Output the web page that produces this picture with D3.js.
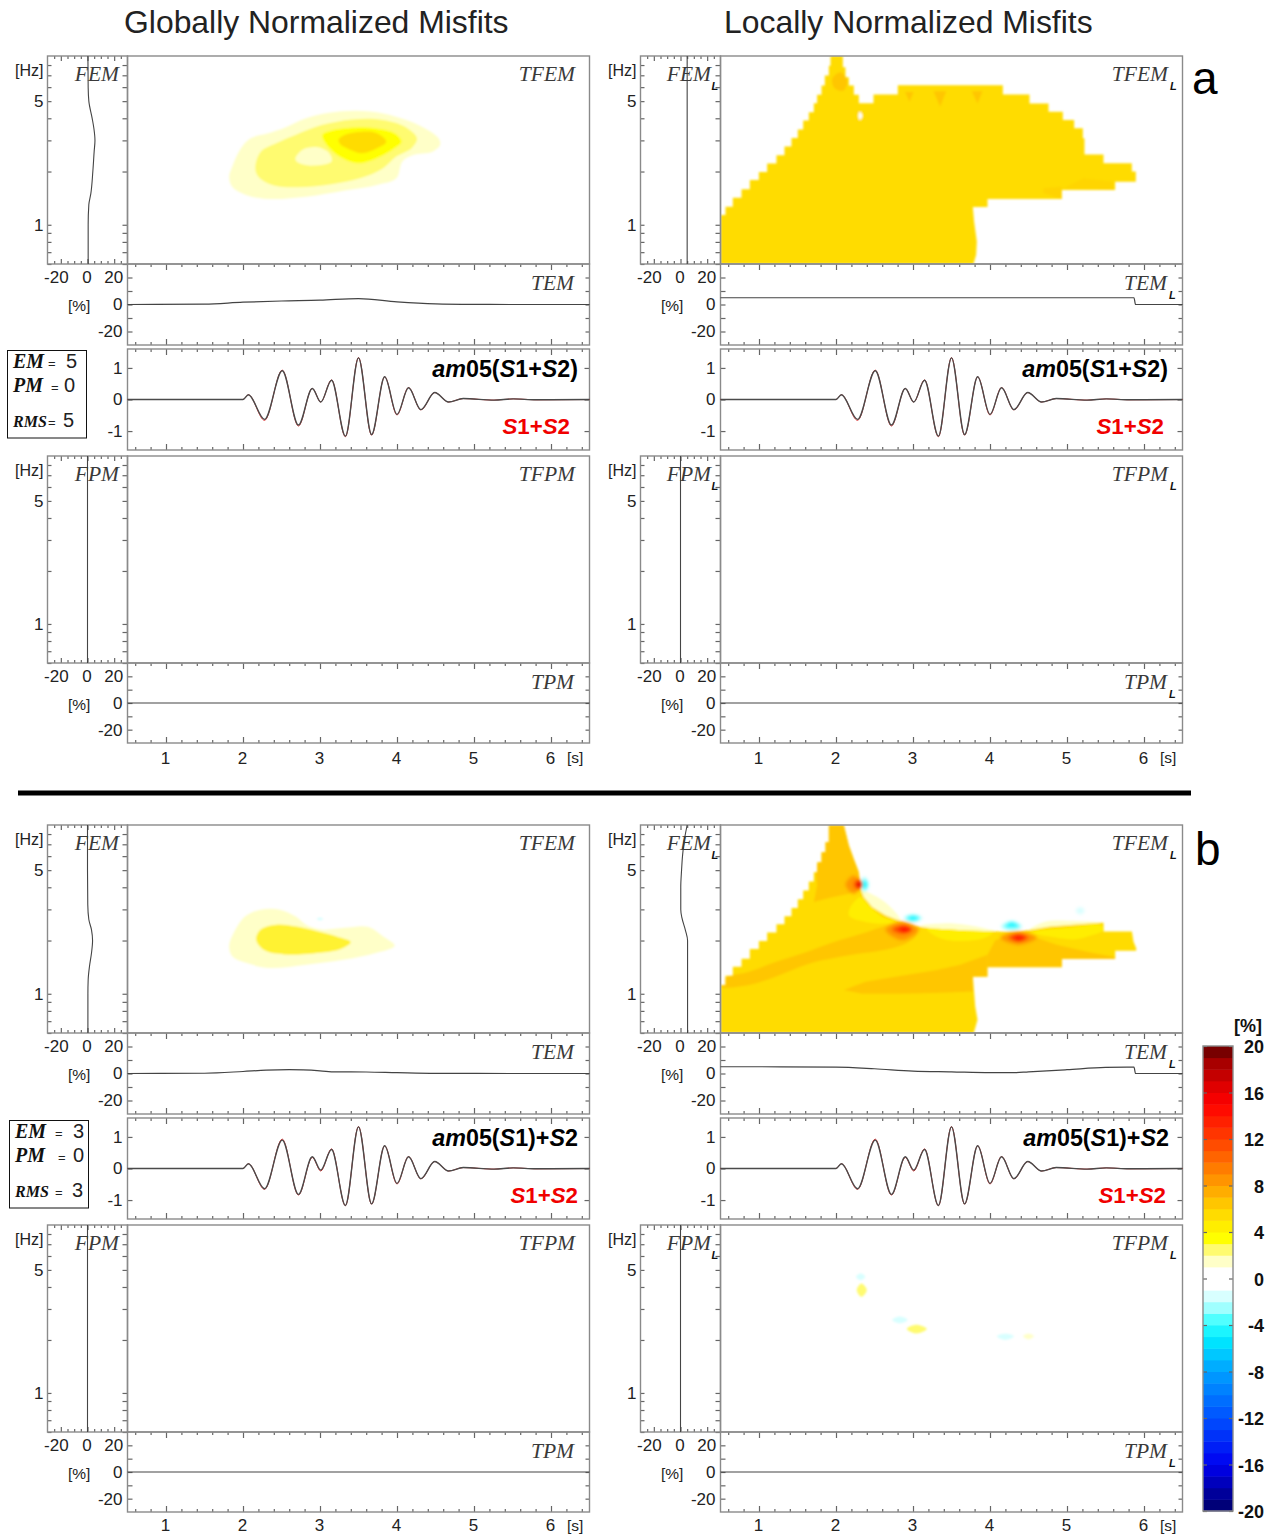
<!DOCTYPE html>
<html>
<head>
<meta charset="utf-8">
<script src="https://cdn.jsdelivr.net/npm/d3@7"></script>
<style>
html, body { margin: 0; background: #fff; }
svg { display: block; }
text { font-family: "Liberation Sans", Arial, sans-serif; fill: #222; }
.serif { font-family: "Liberation Serif", serif; font-style: italic; fill: #3a3a3a; }
</style>
</head>
<body>
<svg width="1277" height="1535"></svg>
<script>
// ---- axis values
const timeMajor = [1, 2, 3, 4, 5, 6];
const timeMinor = [0.6,0.8,1.2,1.4,1.6,1.8,2.2,2.4,2.6,2.8,3.2,3.4,3.6,3.8,4.2,4.4,4.6,4.8,5.2,5.4,5.6,5.8,6.2,6.4];
const freqTicks = [0.6,0.7,0.8,0.9,1,2,3,4,5,6,7,8];
const freqLabels = [1, 5];
const ampMajor = [-20, 0, 20];
const ampMinor = [-25,-15,-10,-5,5,10,15,25];
const pctTicks = [-20, -10, 0, 10, 20];
const waveTicks = [-1, 0, 1];
const barTicks = [-20,-16,-12,-8,-4,0,4,8,12,16,20];

// ---- colour levels of the misfit bar
const colorLevels = [-19.5,-16,-12,-8,-5,-3.5,-2.5,-1.5,-0.5,0.5,1.5,2.5,3.5,4.5,5.5,6.5,8,10,12,15,16.5,18.5,19.5];
const colorHexes = ["#000078","#0000f0","#0050ff","#00a0ff","#00f0ff","#50ffff","#a0ffff","#d8ffff","#ffffff","#ffffff","#ffffc8","#fffb70","#ffff00","#ffee00","#ffdc00","#ffc600","#ffa000","#ff7000","#ff4000","#ff0000","#e00000","#a80000","#780000"];

// ---- signals: time [s], amplitude
const waveT = [0.5,1.9,2.0,2.07,2.28,2.51,2.72,2.90,3.01,3.15,3.33,3.50,3.67,3.84,4.00,4.15,4.31,4.49,4.67,4.86,5.26,5.51,5.80,6.5];
const waveRefA = [0,0,0,0.15,-0.66,0.93,-0.84,0.35,-0.08,0.62,-1.18,1.33,-1.13,0.72,-0.49,0.38,-0.33,0.22,-0.08,0.03,-0.02,0.02,-0.01,0];
const waveFitA = [0,0,0,0.15,-0.63,0.91,-0.81,0.35,-0.08,0.61,-1.16,1.32,-1.11,0.72,-0.47,0.37,-0.32,0.22,-0.08,0.03,-0.02,0.02,-0.01,0];
const waveFitB = [0,0,0,0.15,-0.64,0.90,-0.82,0.37,-0.05,0.60,-1.17,1.32,-1.12,0.72,-0.47,0.37,-0.32,0.22,-0.08,0.03,-0.02,0.02,-0.01,0];

// ---- one-dimensional misfits: [time, %] and [Hz, %]
const temGA = [[0.5,0],[1.5,0.3],[2,1.7],[2.5,2.6],[3,3.2],[3.5,4.4],[4,2],[4.5,0.5],[5,0.1],[5.5,0],[6.5,0]];
const temLA = [[0.5,5],[5.87,5],[5.89,0],[6.5,0]];
const temGB = [[0.5,0],[1.5,0.2],[2,1.5],[2.3,2.5],[2.6,2.8],[3,2],[3.2,1.2],[3.6,1.1],[4,0.6],[4.5,0.1],[5.5,0],[6.5,0]];
const temLB = [[0.5,5],[1,5],[2,4.7],[2.5,3.5],[3,1.8],[3.5,1.2],[4,0.6],[4.3,0.6],[4.5,1.2],[5,2.8],[5.5,4.5],[5.87,4.7],[5.89,0],[6.5,0]];
const tpmZero = [[0.5,0],[6.5,0]];
const femGA = [[9,0.3],[6,0.5],[5,1],[4,3.5],[3.5,4.8],[3,5.6],[2.6,5],[2,4],[1.5,2.5],[1.3,1],[1,0.5],[0.6,0.5]];
const femLA = [[9,5],[0.6,5]];
const femGB = [[9,0],[5,0],[3.2,0.2],[2.63,1],[2.3,3],[2,3.8],[1.7,3],[1.43,1.5],[1.2,0.5],[1,0.3],[0.6,0.3]];
const femLB = [[9,5],[7.5,3],[6,1.5],[5,0.8],[4,0.2],[3,0.2],[2.7,1],[2.27,3.8],[2,5.3],[1,5.3],[0.6,5.3]];
const fpmZero = [[9,0],[0.6,0]];

// ---- time-frequency contours: [s, Hz]
const tfemGA15 = [[1.82,1.87],[1.86,2.13],[1.96,2.65],[2.10,3.08],[2.33,3.29],[2.55,3.55],[2.82,4.0],[3.12,4.30],[3.47,4.41],[3.82,4.26],[4.12,3.91],[4.36,3.51],[4.54,3.08],[4.56,2.83],[4.46,2.59],[4.21,2.48],[4.07,2.28],[3.99,1.83],[3.74,1.68],[3.32,1.56],[2.82,1.44],[2.33,1.40],[2.03,1.48],[1.86,1.64]];
const tfemGA25 = [[2.16,2.09],[2.23,2.59],[2.43,2.89],[2.68,3.22],[3.02,3.66],[3.42,3.94],[3.82,3.91],[4.12,3.55],[4.26,3.08],[4.19,2.71],[3.99,2.43],[3.82,2.09],[3.52,1.83],[3.17,1.70],[2.72,1.63],[2.38,1.68],[2.20,1.87]];
const tfemGAhole = [[2.68,2.35],[2.77,2.65],[2.97,2.74],[3.12,2.54],[3.15,2.28],[2.92,2.16],[2.75,2.21]];
const tfemGA35 = [[3.03,3.22],[3.07,2.89],[3.22,2.48],[3.47,2.23],[3.67,2.31],[3.97,2.71],[4.06,2.95],[3.97,3.29],[3.72,3.51],[3.47,3.55],[3.17,3.43]];
const tfemGA55 = [[3.24,3.02],[3.32,3.22],[3.54,3.36],[3.74,3.29],[3.86,2.95],[3.74,2.71],[3.54,2.54],[3.35,2.71],[3.27,2.83]];
const tfemGB15 = [[1.82,1.86],[1.88,2.21],[2.03,2.74],[2.23,2.99],[2.48,2.99],[2.68,2.74],[2.82,2.46],[3.02,2.31],[3.32,2.36],[3.62,2.39],[3.82,2.11],[3.97,1.87],[3.72,1.70],[3.32,1.56],[2.82,1.46],[2.33,1.40],[2.03,1.50],[1.86,1.63]];
const tfemGB45 = [[2.17,2.03],[2.23,2.31],[2.43,2.46],[2.68,2.41],[2.97,2.26],[3.22,2.11],[3.40,1.96],[3.27,1.79],[2.92,1.69],[2.53,1.67],[2.28,1.76]];
const tfemGBcold = [[2.96,2.65],[3.0,2.70],[3.04,2.65],[3.0,2.60]];

// local panel a: staircase outline, then the smooth foot
const outlineAsteps = [[0.5,1.134],[0.565,1.263],[0.66,1.42],[0.773,1.59],[0.881,1.79],[0.998,1.99],[1.106,2.22],[1.227,2.47],[1.331,2.77],[1.422,3.09],[1.504,3.46],[1.574,3.89],[1.647,4.33],[1.712,4.87],[1.755,5.43],[1.812,6.13],[1.855,6.98],[1.907,7.94],[1.929,9],[2.089,7.78],[2.123,6.82],[2.167,6.13],[2.232,5.43],[2.297,4.87],[2.487,5.45],[2.803,6.15],[4.167,5.45],[4.513,4.85],[4.76,4.35],[4.946,3.91],[5.093,3.51],[5.206,3.08],[5.227,2.5],[5.474,2.23],[5.842,2.0],[5.894,1.75],[5.625,1.57],[4.933,1.40],[3.968,1.26],[3.777,1.26]];
const outlineAfoot = [[3.794,1.04],[3.829,0.805],[3.82,0.677],[3.786,0.6],[0.5,0.6]];
const patchA1 = [[1.95,6.68],[2.06,7.29],[2.145,6.54],[2.10,5.74],[1.99,5.87]];
const patchA2 = [[2.898,5.64],[3.006,5.64],[2.955,4.96]];
const patchA3 = [[3.266,5.69],[3.431,5.69],[3.353,4.65]];
const patchA4 = [[3.764,5.69],[3.903,5.69],[3.838,4.85]];
const patchA5 = [[4.695,1.61],[4.933,1.64],[4.933,1.40],[4.695,1.51]];
const patchA6 = [[5.214,1.83],[5.604,1.75],[5.604,1.57],[4.955,1.61]];
const holeA = [[2.29,4.13],[2.31,4.35],[2.344,4.13],[2.31,3.91]];

// local panel b
const outlineBsteps = [[0.5,1.12],[0.565,1.263],[0.66,1.42],[0.773,1.58],[0.881,1.79],[0.998,1.99],[1.106,2.22],[1.227,2.47],[1.331,2.74],[1.422,3.05],[1.504,3.42],[1.574,3.84],[1.647,4.32],[1.712,4.87],[1.755,5.55],[1.812,6.31],[1.864,7.19],[1.907,9],[2.102,9]];
const outlineBedge = [[2.167,6.89],[2.232,5.79],[2.297,4.87],[2.322,3.92],[2.361,3.52],[2.47,3.09],[2.643,2.78],[2.859,2.55],[3.033,2.42],[3.267,2.34],[3.70,2.28],[4.133,2.25],[4.392,2.25],[4.782,2.40],[5.431,2.52],[5.475,2.52],[5.475,2.25],[5.843,2.25],[5.864,1.97],[5.899,1.81],[5.899,1.75],[5.626,1.75],[5.626,1.57],[4.934,1.57],[4.934,1.41],[3.968,1.41],[3.968,1.25],[3.778,1.25],[3.808,0.849],[3.838,0.713],[3.795,0.612],[3.79,0.6],[0.5,0.6]];
const bandSpike = [[1.907,9],[2.102,9],[2.232,5.79],[2.305,4.87],[2.327,4.01],[2.167,3.68],[1.907,3.48],[1.712,3.30],[1.755,4.10],[1.734,5.09],[1.812,6.31]];
const bandDiag = [[0.543,1.22],[0.868,1.33],[1.214,1.51],[1.561,1.69],[1.907,1.92],[2.34,2.19],[2.686,2.44],[2.881,2.46],[3.054,2.24],[3.032,2.10],[2.903,1.92],[2.6,1.76],[2.167,1.65],[1.647,1.48],[1.214,1.25],[0.868,1.12],[0.5,1.10]];
const bandFoot = [[2.102,1.05],[2.383,1.17],[2.773,1.25],[3.292,1.36],[3.613,1.46],[3.968,1.66],[3.968,1.25],[3.778,1.25],[3.778,1.03],[3.267,1.01],[2.773,1.0],[2.34,1.0]];
const bandRight = [[3.968,1.41],[3.968,1.66],[4.068,2.01],[4.306,2.15],[4.566,2.10],[4.869,1.89],[5.258,1.73],[5.626,1.61],[5.626,1.57],[4.934,1.57],[4.934,1.41]];
const paleArc1 = [[2.322,3.84],[2.513,3.57],[2.686,3.16],[2.838,2.60],[2.6,2.72],[2.383,3.30]];
const paleArc2 = [[3.094,2.43],[3.397,2.50],[3.70,2.45],[4.068,2.26],[3.397,2.31]];
const paleArc3 = [[4.501,2.28],[4.695,2.54],[4.999,2.59],[5.431,2.52],[5.085,2.38],[4.695,2.28]];
const yellow1 = [[2.322,3.52],[2.188,3.09],[2.167,2.77],[2.297,2.60],[2.556,2.49],[2.794,2.55],[2.6,2.72],[2.383,3.30]];
const yellow2 = [[3.18,2.34],[4.046,2.25],[3.916,2.06],[3.483,2.0],[3.267,2.15]];
const yellow3 = [[4.522,2.22],[5.085,2.38],[5.431,2.45],[5.475,2.30],[5.258,2.10],[5.085,2.03],[4.739,2.12]];
const hot1a = [[2.123,4.15],[2.232,4.67],[2.327,4.15],[2.232,3.68]];
const hot1b = [[2.232,4.15],[2.288,4.43],[2.327,4.15],[2.288,3.89]];
const hot1c = [[2.27,4.15],[2.30,4.32],[2.331,4.15],[2.30,3.99]];
const hot2a = [[2.643,2.31],[2.86,2.55],[3.076,2.31],[2.86,2.01]];
const hot2b = [[2.729,2.31],[2.875,2.44],[2.989,2.31],[2.875,2.19]];
const hot2c = [[2.816,2.31],[2.89,2.38],[2.968,2.31],[2.89,2.25]];
const hot3a = [[4.133,2.08],[4.37,2.25],[4.609,2.08],[4.37,1.89]];
const hot3b = [[4.241,2.08],[4.37,2.18],[4.501,2.08],[4.37,1.97]];
const hot3c = [[4.306,2.08],[4.37,2.12],[4.444,2.08],[4.37,2.02]];
const cold1a = [[2.314,4.15],[2.37,4.57],[2.422,4.15],[2.37,3.76]];
const cold1b = [[2.344,4.15],[2.375,4.37],[2.405,4.15],[2.375,3.92]];
const cold2a = [[2.881,2.68],[3.0,2.81],[3.119,2.68],[3.0,2.55]];
const cold2b = [[2.924,2.68],[3.0,2.75],[3.076,2.68],[3.0,2.60]];
const cold3a = [[4.146,2.40],[4.284,2.58],[4.414,2.40],[4.284,2.28]];
const cold3b = [[4.198,2.40],[4.284,2.53],[4.371,2.40],[4.284,2.38]];
const cold5 = [[5.115,2.95],[5.172,3.08],[5.228,2.95],[5.172,2.81]];
// phase misfit specks, local panel b
const speck1 = [[2.26,4.57],[2.32,4.77],[2.38,4.57],[2.32,4.37]];
const speck2 = [[2.27,3.85],[2.33,4.19],[2.40,3.85],[2.33,3.52]];
const speck3 = [[2.73,2.60],[2.83,2.72],[2.93,2.60],[2.83,2.49]];
const speck4 = [[2.92,2.31],[3.04,2.44],[3.18,2.31],[3.04,2.18]];
const speck5 = [[4.09,2.10],[4.2,2.17],[4.31,2.10],[4.2,2.0]];
const speck6 = [[4.43,2.10],[4.5,2.17],[4.57,2.10],[4.5,2.02]];

const stairs = pts => pts.flatMap((p, i) => i === 0 ? [p] : [[p[0], pts[i - 1][1]], p]);
const outlineA = [[0.5, 0.6]].concat(stairs(outlineAsteps), outlineAfoot);
const outlineB = [[0.5, 0.6]].concat(stairs(outlineBsteps), outlineBedge);

const bandColor = (() => {
    const c = d3.scaleLinear().domain(colorLevels).range(colorHexes);
    return v => c(Math.floor(v) + 0.5);
})();

const svg = d3.select("svg");
const defs = svg.append("defs");
defs.append("filter").attr("id", "soft")
    .attr("x", "-10%").attr("y", "-10%").attr("width", "120%").attr("height", "120%")
    .append("feGaussianBlur").attr("stdDeviation", 1);
defs.append("filter").attr("id", "softer")
    .attr("x", "-60%").attr("y", "-60%").attr("width", "220%").attr("height", "220%")
    .append("feGaussianBlur").attr("stdDeviation", 1.8);

const frameColor = "#8a8a8a";
const tickColor = "#666";
let clipCount = 0;

function tickAxis(parent, axis, vals, size, tx, ty) {
    const g = parent.append("g")
        .attr("transform", "translate(" + tx + "," + ty + ")")
        .call(axis.tickValues(vals).tickSize(size).tickFormat(""));
    g.select(".domain").remove();
    g.selectAll("line").attr("stroke", tickColor).attr("stroke-width", 1.2);
    g.selectAll("text").remove();
}

function labelAxis(parent, axis, vals, tx, ty, pad) {
    const g = parent.append("g")
        .attr("transform", "translate(" + tx + "," + ty + ")")
        .call(axis.tickValues(vals).tickSize(0).tickPadding(pad).tickFormat(d => String(d)));
    g.select(".domain").remove();
    g.selectAll("text").attr("font-family", null).attr("font-size", 17)
        .style("font-family", '"Liberation Sans", Arial, sans-serif').style("fill", "#222");
    return g;
}

function frame(parent, x0, y0, x1, y1) {
    parent.append("rect").attr("x", x0).attr("y", y0)
        .attr("width", x1 - x0).attr("height", y1 - y0)
        .attr("fill", "none").attr("stroke", frameColor).attr("stroke-width", 1.4);
}

function panelName(parent, name, sub, xEnd, yBase, subX) {
    parent.append("text").attr("class", "serif")
        .attr("x", xEnd).attr("y", yBase).attr("text-anchor", "end")
        .attr("font-size", 21.5).text(name);
    if (sub) {
        parent.append("text").attr("x", subX).attr("y", yBase + 9)
            .attr("font-size", 11).attr("font-weight", "bold").attr("font-style", "italic")
            .style("fill", "#111").text("L");
    }
}

function drawLayers(parent, x, f, x0, y0, x1, y1, layers, outline) {
    const id = "clip" + (clipCount++);
    defs.append("clipPath").attr("id", id).append("rect")
        .attr("x", x0).attr("y", y0).attr("width", x1 - x0).attr("height", y1 - y0);
    const g = parent.append("g").attr("clip-path", "url(#" + id + ")")
        .append("g").attr("filter", "url(#soft)");
    const smooth = d3.line().x(d => x(d[0])).y(d => f(d[1])).curve(d3.curveCatmullRomClosed);
    const sharp = d3.line().x(d => x(d[0])).y(d => f(d[1]));
    let target = g;
    layers.forEach(l => {
        if (l.clipToOutline && outline && target === g) {
            const inner = "clip" + (clipCount++);
            defs.append("clipPath").attr("id", inner).append("path").attr("d", sharp(outline) + "Z");
            target = g.append("g").attr("clip-path", "url(#" + inner + ")");
        }
        const group = l.clipToOutline ? target : g;
        const p = group.append("path")
            .attr("d", l.sharp ? sharp(l.ring) + "Z" : smooth(l.ring))
            .attr("fill", bandColor(l.level));
        if (l.alpha) p.attr("fill-opacity", l.alpha);
        if (l.spot) p.attr("filter", "url(#softer)");
    });
}

function drawPanelRow(parent, cx, yTop, yTf, yPct, emName, tfName, tName, sub, femData, tfLayers, tData, outline) {
    const x = d3.scaleLinear().domain([0.5, 6.5]).range([127.5 + cx, 589.5 + cx]);
    const f = d3.scaleLog().domain([0.6, 9]).range([yTf, yTop]);
    const amp = d3.scaleLinear().domain([-30, 30]).range([47.5 + cx, 127.5 + cx]);
    const pct = d3.scaleLinear().domain([-30, 30]).range([yPct, yTf]);

    drawLayers(parent, x, f, 127.5 + cx, yTop, 589.5 + cx, yTf, tfLayers, outline);

    // freq panel ticks
    tickAxis(parent, d3.axisRight(f), freqTicks, 4, 47.5 + cx, 0);
    tickAxis(parent, d3.axisLeft(f), freqTicks, 5, 127.5 + cx, 0);
    tickAxis(parent, d3.axisBottom(amp), ampMajor, 5, 0, yTop);
    tickAxis(parent, d3.axisBottom(amp), ampMinor, 3, 0, yTop);
    tickAxis(parent, d3.axisTop(amp), ampMajor, 5, 0, yTf);
    tickAxis(parent, d3.axisTop(amp), ampMinor, 3, 0, yTf);
    // time ticks on the percent panel
    tickAxis(parent, d3.axisBottom(x), timeMajor, 6, 0, yTf);
    tickAxis(parent, d3.axisBottom(x), timeMinor, 3, 0, yTf);
    tickAxis(parent, d3.axisTop(x), timeMajor, 6, 0, yPct);
    tickAxis(parent, d3.axisTop(x), timeMinor, 3, 0, yPct);
    tickAxis(parent, d3.axisRight(pct), pctTicks, 5, 127.5 + cx, 0);
    tickAxis(parent, d3.axisLeft(pct), pctTicks, 4, 589.5 + cx, 0);

    frame(parent, 47.5 + cx, yTop, 127.5 + cx, yTf);
    frame(parent, 127.5 + cx, yTop, 589.5 + cx, yTf);
    frame(parent, 127.5 + cx, yTf, 589.5 + cx, yPct);

    parent.append("path").datum(femData)
        .attr("d", d3.line().x(d => amp(d[1])).y(d => f(d[0])).curve(d3.curveMonotoneY))
        .attr("fill", "none").attr("stroke", "#444").attr("stroke-width", 1.1);
    parent.append("path").datum(tData)
        .attr("d", d3.line().x(d => x(d[0])).y(d => pct(d[1])).curve(d3.curveMonotoneX))
        .attr("fill", "none").attr("stroke", "#444").attr("stroke-width", 1.2);

    // tick labels
    labelAxis(parent, d3.axisLeft(f), freqLabels, 47.5 + cx, 0, 4);
    labelAxis(parent, d3.axisBottom(amp), ampMajor, 0, yTf + 3, 4)
        .selectAll("text").attr("dx", d => d === -20 ? -5 : -1);
    labelAxis(parent, d3.axisLeft(pct), [-20, 0], 127.5 + cx, 0, 5);
    parent.append("text").attr("x", 15 + cx).attr("y", yTop + 19.5).attr("font-size", 16).text("[Hz]");
    parent.append("text").attr("x", 68 + cx).attr("y", yTf + 47).attr("font-size", 15.5).text("[%]");

    panelName(parent, emName, sub, (sub ? 118 : 119) + cx, yTop + 25, 118.5 + cx);
    panelName(parent, tfName, sub, 575 + cx, yTop + 25, 577 + cx);
    panelName(parent, tName, sub, 574 + cx, yTf + 26, 576 + cx);
    return x;
}

function richText(parent, parts, xEnd, yBase, size, color) {
    const t = parent.append("text").attr("x", xEnd).attr("y", yBase)
        .attr("text-anchor", "end").attr("font-size", size).attr("font-weight", "bold")
        .style("fill", color);
    parts.forEach(p => {
        t.append("tspan").attr("font-style", p[1] ? "italic" : "normal").text(p[0]);
    });
}

function drawWave(parent, cx, y0, y1, fitValues, fitParts, fitEnd, refEnd, refY, fitY) {
    const x = d3.scaleLinear().domain([0.5, 6.5]).range([127.5 + cx, 589.5 + cx]);
    const amp = d3.scaleLinear().domain([-1.6, 1.6]).range([y1, y0]);
    tickAxis(parent, d3.axisBottom(x), timeMajor, 6, 0, y0);
    tickAxis(parent, d3.axisBottom(x), timeMinor, 3, 0, y0);
    tickAxis(parent, d3.axisTop(x), timeMajor, 6, 0, y1);
    tickAxis(parent, d3.axisTop(x), timeMinor, 3, 0, y1);
    tickAxis(parent, d3.axisRight(amp), waveTicks, 5, 127.5 + cx, 0);
    tickAxis(parent, d3.axisLeft(amp), waveTicks, 5, 589.5 + cx, 0);
    frame(parent, 127.5 + cx, y0, 589.5 + cx, y1);
    const line = d3.line().x((d, i) => x(waveT[i])).y(d => amp(d)).curve(d3.curveMonotoneX);
    parent.append("path").datum(waveRefA).attr("d", line)
        .attr("fill", "none").attr("stroke", "#d01818").attr("stroke-width", 0.9);
    parent.append("path").datum(fitValues).attr("d", line)
        .attr("fill", "none").attr("stroke", "#4a4a4a").attr("stroke-width", 1.4);
    labelAxis(parent, d3.axisLeft(amp), waveTicks, 127.5 + cx, 0, 5);
    richText(parent, fitParts, fitEnd + cx, fitY, 23.3, "#000");
    richText(parent, [["S", true], ["1+", false], ["S", true], ["2", false]], refEnd + cx, refY, 22.3, "#f00000");
}

function statBox(parent, xr, yr, w, h, nameX, eqX, vals, valX, valXrms, base) {
    parent.append("rect").attr("x", xr).attr("y", yr).attr("width", w).attr("height", h)
        .attr("fill", "#fff").attr("stroke", "#111").attr("stroke-width", 1);
    const rows = [["EM", 20, base[0], valX[0]], ["PM", 20, base[1], valX[1]], ["RMS", 16, base[2], valXrms]];
    rows.forEach((r, i) => {
        parent.append("text").attr("class", "serif").attr("x", nameX).attr("y", r[2])
            .attr("font-size", r[1]).attr("font-weight", "bold").style("fill", "#111").text(r[0]);
        parent.append("text").attr("x", eqX + (i === 1 ? 3 : 0)).attr("y", r[2])
            .attr("font-size", 13).text("=");
        parent.append("text").attr("x", r[3]).attr("y", r[2])
            .attr("font-size", 20).text(vals[i]);
    });
}

function localLayersA() {
    return [
        {level: 5.5, ring: outlineA, sharp: true},
        {level: 6.5, ring: patchA1, clipToOutline: true},
        {level: 6.5, ring: patchA2, sharp: true, clipToOutline: true},
        {level: 6.5, ring: patchA3, sharp: true, clipToOutline: true},
        {level: 6.5, ring: patchA4, sharp: true, clipToOutline: true},
        {level: 6.5, ring: patchA5, sharp: true, clipToOutline: true, alpha: 0.4},
        {level: 6.5, ring: patchA6, sharp: true, clipToOutline: true, alpha: 0.3},
        {level: 0, ring: holeA}
    ];
}

function localLayersB() {
    return [
        {level: 1.5, ring: paleArc1},
        {level: 1.5, ring: paleArc2},
        {level: 1.5, ring: paleArc3},
        {level: -2.5, ring: cold1a, spot: true},
        {level: -4.5, ring: cold1b, spot: true},
        {level: -2.5, ring: cold2a, spot: true},
        {level: -4.5, ring: cold2b, spot: true},
        {level: -2.5, ring: cold3a, spot: true},
        {level: -4.5, ring: cold3b, spot: true},
        {level: -1.5, ring: cold5, spot: true},
        {level: 5.5, ring: outlineB, sharp: true},
        {level: 6.5, ring: bandSpike, sharp: true, clipToOutline: true},
        {level: 6.5, ring: bandDiag, clipToOutline: true},
        {level: 6.5, ring: bandFoot, sharp: true, clipToOutline: true},
        {level: 6.5, ring: bandRight, sharp: true, clipToOutline: true},
        {level: 4.5, ring: yellow1, clipToOutline: true},
        {level: 4.5, ring: yellow2, clipToOutline: true},
        {level: 4.5, ring: yellow3, clipToOutline: true},
        {level: 8, ring: hot1a, spot: true},
        {level: 11, ring: hot1b, spot: true},
        {level: 16, ring: hot1c, spot: true},
        {level: 8, ring: hot2a, spot: true},
        {level: 11, ring: hot2b, spot: true},
        {level: 14, ring: hot2c, spot: true},
        {level: 8, ring: hot3a, spot: true},
        {level: 11, ring: hot3b, spot: true},
        {level: 14, ring: hot3c, spot: true}
    ];
}

const fitPartsA = [["am", true], ["05(", false], ["S", true], ["1+", false], ["S", true], ["2)", false]];
const fitPartsB = [["am", true], ["05(", false], ["S", true], ["1)+", false], ["S", true], ["2", false]];

// ---- block a
const a = svg.append("g");
drawPanelRow(a, 0, 56, 264, 345, "FEM", "TFEM", "TEM", false, femGA, [
    {level: 1.5, ring: tfemGA15},
    {level: 2.5, ring: tfemGA25},
    {level: 1.5, ring: tfemGAhole},
    {level: 3.5, ring: tfemGA35},
    {level: 5.5, ring: tfemGA55}
], temGA);
drawWave(a, 0, 349, 450, waveFitA, fitPartsA, 578, 570, 434, 377);
drawPanelRow(a, 0, 456, 663, 743, "FPM", "TFPM", "TPM", false, fpmZero, [], tpmZero);
drawPanelRow(a, 593, 56, 264, 345, "FEM", "TFEM", "TEM", true, femLA, localLayersA(), temLA, outlineA);
drawWave(a, 593, 349, 450, waveFitA, fitPartsA, 575, 571, 434, 377);
drawPanelRow(a, 593, 456, 663, 743, "FPM", "TFPM", "TPM", true, fpmZero, [], tpmZero);

// ---- block b
const b = svg.append("g");
drawPanelRow(b, 0, 825, 1033, 1114, "FEM", "TFEM", "TEM", false, femGB, [
    {level: 1.5, ring: tfemGB15},
    {level: 4.5, ring: tfemGB45, alpha: 0.75},
    {level: -1.5, ring: tfemGBcold}
], temGB);
drawWave(b, 0, 1118, 1219, waveFitB, fitPartsB, 578, 578, 1203, 1146);
drawPanelRow(b, 0, 1225, 1432, 1512, "FPM", "TFPM", "TPM", false, fpmZero, [], tpmZero);
drawPanelRow(b, 593, 825, 1033, 1114, "FEM", "TFEM", "TEM", true, femLB, localLayersB(), temLB, outlineB);
drawWave(b, 593, 1118, 1219, waveFitB, fitPartsB, 576, 573, 1203, 1146);
drawPanelRow(b, 593, 1225, 1432, 1512, "FPM", "TFPM", "TPM", true, fpmZero, [
    {level: -1.5, ring: speck1},
    {level: 2.5, ring: speck2},
    {level: -1.5, ring: speck3},
    {level: 2.5, ring: speck4},
    {level: -1.5, ring: speck5},
    {level: 1.5, ring: speck6}
], tpmZero);

// time labels under the two bottom rows; the lower pair sits tight against the page edge
[[0, 743, 5, 20], [593, 743, 5, 20], [0, 1512, 2.5, 19], [593, 1512, 2.5, 19]].forEach(p => {
    const x = d3.scaleLinear().domain([0.5, 6.5]).range([127.5 + p[0], 589.5 + p[0]]);
    labelAxis(svg, d3.axisBottom(x), timeMajor, -1, p[1] + p[2], 4);
    svg.append("text").attr("x", 567 + p[0]).attr("y", p[1] + p[3]).attr("font-size", 15.5).text("[s]");
});

// ---- stats boxes
statBox(svg, 7.5, 350.5, 79, 87.5, 13, 48, ["5", "0", "5"], [66, 64], 63, [368, 392, 427]);
statBox(svg, 9.5, 1120.5, 79, 87.5, 15, 55, ["3", "0", "3"], [73, 73], 72, [1138, 1162, 1197]);

// ---- titles, letters, separator
svg.append("text").attr("x", 124).attr("y", 33).attr("font-size", 31.9).text("Globally Normalized Misfits");
svg.append("text").attr("x", 724).attr("y", 33).attr("font-size", 31.9).text("Locally Normalized Misfits");
svg.append("text").attr("x", 1192).attr("y", 94).attr("font-size", 46).style("fill", "#000").text("a");
svg.append("text").attr("x", 1195).attr("y", 865).attr("font-size", 46).style("fill", "#000").text("b");
svg.append("line").attr("x1", 18).attr("x2", 1191).attr("y1", 793).attr("y2", 793)
    .attr("stroke", "#000").attr("stroke-width", 5);

// ---- colour bar
const barY = d3.scaleLinear().domain([-20, 20]).range([1511, 1046]);
const bar = svg.append("g");
bar.selectAll("rect.band").data(d3.range(-20, 20)).enter().append("rect")
    .attr("class", "band")
    .attr("x", 1203).attr("width", 30)
    .attr("y", d => barY(d + 1))
    .attr("height", d => barY(d) - barY(d + 1) + 0.5)
    .attr("fill", d => bandColor(d));
tickAxis(bar, d3.axisRight(barY), barTicks, 4, 1203, 0);
tickAxis(bar, d3.axisLeft(barY), barTicks, 4, 1233, 0);
frame(bar, 1203, 1046, 1233, 1511);
const barLabels = bar.append("g").attr("transform", "translate(1233,1)")
    .call(d3.axisRight(barY).tickValues(barTicks).tickSize(0).tickPadding(8).tickFormat(d => String(d)));
barLabels.select(".domain").remove();
barLabels.selectAll("text")
    .attr("text-anchor", "end").attr("x", 31).attr("font-size", 18).attr("font-weight", "bold")
    .style("font-family", '"Liberation Sans", Arial, sans-serif').style("fill", "#111");
bar.append("text").attr("x", 1234).attr("y", 1032).attr("font-size", 18).attr("font-weight", "bold")
    .style("fill", "#111").text("[%]");
</script>
</body>
</html>
